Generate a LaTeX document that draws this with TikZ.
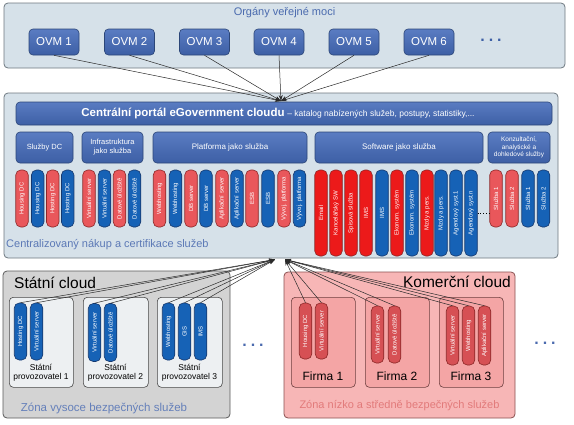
\documentclass[tikz,border=0pt]{standalone}
\usepackage{fontspec}
\setmainfont{Liberation Sans}
\usetikzlibrary{arrows.meta}
\definecolor{panelfill}{HTML}{D6E1E9}
\definecolor{paneldraw}{HTML}{6E7880}
\definecolor{boxtop}{HTML}{5A7CC2}
\definecolor{boxbot}{HTML}{3D5FA5}
\definecolor{boxdraw}{HTML}{2C4678}
\definecolor{redfill}{HTML}{E9575B}
\definecolor{reddraw}{HTML}{8C2828}
\definecolor{swred}{HTML}{EC1A1A}
\definecolor{bluefill}{HTML}{1662B6}
\definecolor{bluedraw}{HTML}{17396E}
\definecolor{ttlblue}{HTML}{4A6AAE}
\definecolor{grayfill}{HTML}{D3D3D3}
\definecolor{graydraw}{HTML}{5A5A5A}
\definecolor{subgray}{HTML}{EDF0F2}
\definecolor{pinkfill}{HTML}{F7B6B6}
\definecolor{pinkdraw}{HTML}{8A5050}
\definecolor{subpink}{HTML}{F4A5A5}
\definecolor{zonered}{HTML}{E27A7A}
\definecolor{arrcol}{HTML}{2A2A2A}
\newcommand\fsz[2]{\fontsize{#1}{#2}\selectfont}
\newcommand\mkbar[6]{\node[#1,minimum width=#5pt] (#2) at (#3,#4) {#6};}
\tikzset{
  panel/.style={draw=paneldraw, fill=panelfill, rounded corners=4pt, line width=0.8pt, inner sep=0pt, outer sep=0pt},
  bluebox/.style={draw=boxdraw, top color=boxtop, bottom color=boxbot, rounded corners=4pt, text=white, inner sep=0pt, align=center, line width=0.6pt},
  barbase/.style={rotate=90, rounded corners=5pt, minimum height=12.5pt, inner sep=0pt, text=white, font=\fsz{6}{6.5}, line width=0.6pt},
  rbar/.style={barbase, fill=redfill, draw=reddraw},
  bbar/.style={barbase, fill=bluefill, draw=bluedraw},
  sbar/.style={barbase, fill=swred, draw=reddraw},
  cbar/.style={barbase, fill=redfill!92!black, draw=reddraw},
  subbox/.style={rounded corners=4pt, line width=0.6pt, inner sep=0pt, anchor=north west, minimum height=90pt},
  arr/.style={draw=arrcol, line width=0.5pt, -{Stealth[length=6pt,width=4pt]}},
  dots/.style={font=\fsz{16}{16}\bfseries}
}
\begin{document}
\begin{tikzpicture}[x=1pt,y=-1pt]
\useasboundingbox (0,0) rectangle (574,424);
% ---------- top panel ----------
\node[panel, minimum width=561pt, minimum height=65pt, anchor=north west] (toppanel) at (4,3) {};
\node[font=\fsz{11}{13}, text=ttlblue] (toptitle) at (284.5,13) {Orgány veřejné moci};
\foreach \i/\x in {1/54,2/129.5,3/204.5,4/279,5/354,6/429}
  \node[bluebox, minimum width=50pt, minimum height=26pt, font=\fsz{11.5}{13}] (ovm\i) at (\x,42) {OVM \i};
\node[dots, text=boxbot] (topdots) at (491,40) {.\hspace{4pt}.\hspace{4pt}.};
% ---------- middle panel ----------
\node[panel, minimum width=554pt, minimum height=165pt, anchor=north west] (midpanel) at (4,93) {};
\node[bluebox, minimum width=536pt, minimum height=23pt] (portal) at (284,113.5) {};
\node[text=white, inner sep=0pt] (portaltext) at (278,113.5) {{\bfseries\fsz{11.5}{13}Centrální portál eGovernment cloudu} {\fsz{8.5}{10}– katalog nabízených služeb, postupy, statistiky,...}};
\node[bluebox, minimum width=57pt, minimum height=31pt, font=\fsz{7.5}{9}] (catdc) at (44.5,147.5) {Služby DC};
\node[bluebox, minimum width=61pt, minimum height=31pt, font=\fsz{7.5}{9}] (catinf) at (112.5,147.5) {Infrastruktura\\jako služba};
\node[bluebox, minimum width=154pt, minimum height=31pt, font=\fsz{8}{9}] (catpl) at (230,147.5) {Platforma jako služba};
\node[bluebox, minimum width=168pt, minimum height=31pt, font=\fsz{8}{9}] (catsw) at (399,147.5) {Software jako služba};
\node[bluebox, minimum width=62pt, minimum height=31pt, font=\fsz{6.5}{7.5}] (catkz) at (519,147.5) {Konzultační,\\analytické a\\dohledové služby};
% bars: DC
\mkbar{rbar}{dc1}{22}{198.5}{57}{Housing DC}
\mkbar{bbar}{dc2}{37.7}{198.5}{57}{Housing DC}
\mkbar{rbar}{dc3}{52.7}{198.5}{57}{Hosting DC}
\mkbar{bbar}{dc4}{67.7}{198.5}{57}{Hosting DC}
% infra
\mkbar{rbar}{inf1}{89}{198.5}{57}{Virtuální server}
\mkbar{bbar}{inf2}{104.5}{198.5}{57}{Virtuální server}
\mkbar{rbar}{inf3}{119.5}{198.5}{57}{Datové úložiště}
\mkbar{bbar}{inf4}{134.5}{198.5}{57}{Datové úložiště}
% platform
\mkbar{rbar}{pl1}{159.5}{198.5}{57}{Webhosting}
\mkbar{bbar}{pl2}{175.5}{198.5}{57}{Webhosting}
\mkbar{rbar}{pl3}{191}{198.5}{57}{DB server}
\mkbar{bbar}{pl4}{206}{198.5}{57}{DB server}
\mkbar{rbar}{pl5}{222}{198.5}{57}{Aplikační server}
\mkbar{bbar}{pl6}{237}{198.5}{57}{Aplikační server}
\mkbar{rbar}{pl7}{252}{198.5}{57}{ESB}
\mkbar{bbar}{pl8}{268}{198.5}{57}{ESB}
\mkbar{rbar}{pl9}{284}{198.5}{57}{Vývoj. platforma}
\mkbar{bbar}{pl10}{299.5}{198.5}{57}{Vývoj. platforma}
% software
\mkbar{sbar}{sw1}{321}{213}{86}{Email}
\mkbar{sbar}{sw2}{336}{213}{86}{Kancelářský SW}
\mkbar{sbar}{sw3}{351}{213}{86}{Spisová služba}
\mkbar{sbar}{sw4}{366}{213}{86}{IMS}
\mkbar{bbar}{sw5}{382}{213}{86}{IMS}
\mkbar{sbar}{sw6}{397}{213}{86}{Ekonom. systém}
\mkbar{bbar}{sw7}{412}{213}{86}{Ekonom. systém}
\mkbar{sbar}{sw8}{427}{213}{86}{Mzdy a pers.}
\mkbar{bbar}{sw9}{441}{213}{86}{Mzdy a pers.}
\mkbar{bbar}{sw10}{456}{213}{86}{Agendový syst.1}
\mkbar{bbar}{sw11}{471}{213}{86}{Agendový syst.n}
% konzultace
\mkbar{rbar}{kz1}{496}{198.5}{57}{Služba 1}
\mkbar{rbar}{kz2}{512}{198.5}{57}{Služba 2}
\mkbar{bbar}{kz3}{528}{198.5}{57}{Služba 1}
\mkbar{bbar}{kz4}{543.5}{198.5}{57}{Služba 2}
\draw[dotted, line width=0.8pt] (sw11.south) -- (sw11.south -| kz1.north);
\node[font=\fsz{11}{13}, text=ttlblue!90!white, anchor=west, inner sep=0pt] (midfoot) at (6,245) {Centralizovaný nákup a certifikace služeb};
% ---------- state cloud ----------
\node[panel, draw=graydraw, fill=grayfill, minimum width=227pt, minimum height=147pt, anchor=north west] (statepanel) at (3,271) {};
\node[font=\fsz{15.5}{17}, anchor=west, inner sep=0pt] (statetitle) at (14,283) {Státní cloud};
\node[subbox, draw=graydraw!80!black, fill=subgray, minimum width=64pt] (sp1) at (9,297) {};
\node[subbox, draw=graydraw!80!black, fill=subgray, minimum width=65pt] (sp2) at (83,297) {};
\node[subbox, draw=graydraw!80!black, fill=subgray, minimum width=65pt] (sp3) at (157,297) {};
\mkbar{bbar}{st1}{20.5}{331.5}{57}{Hosting DC}
\mkbar{bbar}{st2}{36.5}{331.5}{57}{Virtuální server}
\mkbar{bbar}{st3}{94.5}{332.5}{58}{Virtuální server}
\mkbar{bbar}{st4}{110.5}{332.5}{58}{Datové úložiště}
\mkbar{bbar}{st5}{168.5}{331.5}{57}{Webhosting}
\mkbar{bbar}{st6}{184.5}{331.5}{57}{GIS}
\mkbar{bbar}{st7}{200.5}{331.5}{57}{IMS}
\node[font=\fsz{8.5}{9.5}, align=center, inner sep=0pt] (spl1) at (41,372.5) {Státní\\provozovatel 1};
\node[font=\fsz{8.5}{9.5}, align=center, inner sep=0pt] (spl2) at (115.5,372.5) {Státní\\provozovatel 2};
\node[font=\fsz{8.5}{9.5}, align=center, inner sep=0pt] (spl3) at (189.5,372.5) {Státní\\provozovatel 3};
\node[font=\fsz{11.5}{13}, text=ttlblue!85!white] (statefoot) at (104,408) {Zóna vysoce bezpečných služeb};
\node[dots, text=ttlblue] (middots) at (253,345) {.\hspace{4pt}.\hspace{4pt}.};
% ---------- commercial cloud ----------
\node[panel, draw=pinkdraw, fill=pinkfill, minimum width=231pt, minimum height=146pt, anchor=north west] (companel) at (284,272) {};
\node[font=\fsz{15.5}{17}, anchor=east, inner sep=0pt] (comtitle) at (511,282) {Komerční cloud};
\node[subbox, draw=pinkdraw!80!black, fill=subpink, minimum width=64pt] (f1) at (291,297) {};
\node[subbox, draw=pinkdraw!80!black, fill=subpink, minimum width=64pt] (f2) at (365,297) {};
\node[subbox, draw=pinkdraw!80!black, fill=subpink, minimum width=64pt] (f3) at (439,297) {};
\mkbar{cbar}{cm1}{305.5}{331}{56}{Housing DC}
\mkbar{cbar}{cm2}{321.5}{331}{56}{Virtuální server}
\mkbar{cbar}{cm3}{377.5}{334.5}{57}{Virtuální server}
\mkbar{cbar}{cm4}{394.5}{334.5}{57}{Datové úložiště}
\mkbar{cbar}{cm5}{452.5}{335.5}{59}{Virtuální server}
\mkbar{cbar}{cm6}{468.5}{335.5}{59}{Webhosting}
\mkbar{cbar}{cm7}{484.5}{335.5}{59}{Aplikační server}
\node[font=\fsz{12}{14}, inner sep=0pt] (fl1) at (323,376) {Firma 1};
\node[font=\fsz{12}{14}, inner sep=0pt] (fl2) at (397,376) {Firma 2};
\node[font=\fsz{12}{14}, inner sep=0pt] (fl3) at (471,376) {Firma 3};
\node[font=\fsz{11}{13}, text=zonered] (comfoot) at (399.5,406) {Zóna nízko a středně bezpečných služeb};
\node[dots, text=ttlblue] (rightdots) at (545,343) {.\hspace{4pt}.\hspace{4pt}.};
% ---------- connectors ----------
\coordinate (ovmc) at (281,101);
\coordinate (sc) at (275,259.5);
\coordinate (cc) at (285,259.5);
\foreach \i in {1,...,6} \draw[arr] (ovm\i.south) -- (ovmc);
\foreach \i in {1,...,7} \draw[arr] (st\i.east) -- (sc);
\foreach \i in {1,...,7} \draw[arr] (cm\i.east) -- (cc);
\end{tikzpicture}
\end{document}
